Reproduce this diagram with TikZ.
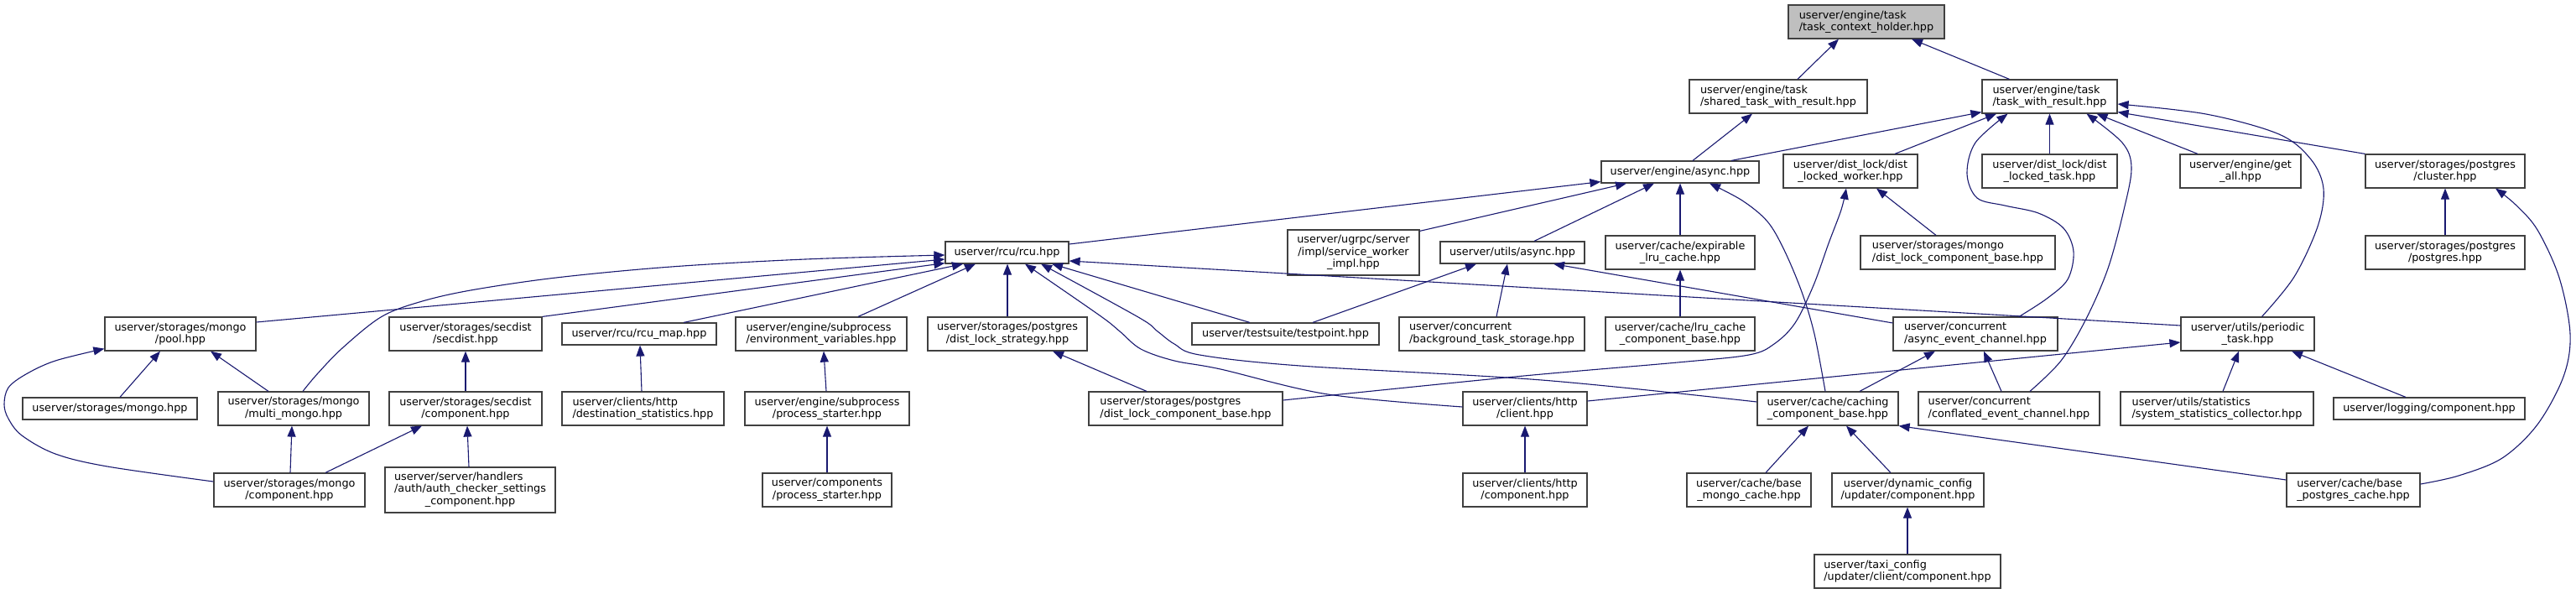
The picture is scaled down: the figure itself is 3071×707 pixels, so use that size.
\documentclass[tikz,border=0pt]{standalone}
\usepackage{fontspec}
\setmainfont{DejaVu Sans}
\usetikzlibrary{arrows.meta}
\definecolor{edgeblue}{HTML}{191970}
\definecolor{boxline}{HTML}{404040}
\definecolor{rootfill}{HTML}{BFBFBF}
\newcommand\bx[7]{\node[box,align=#6,minimum width={#4-#2},minimum height={#5-#3}] (#1) at ({(#2+#4)/2},{(#3+#5)/2}) {#7};}
\begin{document}
\begin{tikzpicture}[x=1pt,y=-1pt,
  box/.style={draw=boxline,line width=1.2pt,fill=white,inner sep=0pt,font=\fontsize{12.8pt}{14.6pt}\selectfont},
  edge/.style={draw=edgeblue,line width=1.1pt,-{Triangle[length=13pt,width=10pt]}}]
\fill[white] (0,0) rectangle (3071,707);
\useasboundingbox (0,0) rectangle (3071,707);
% nodes
\node[box,fill=rootfill,align=left,minimum width=186,minimum height=40] (tch) at (2225,26) {userver/engine/task\\/task\_context\_holder.hpp};
\bx{stwr}{2014}{95}{2226}{135}{left}{userver/engine/task\\/shared\_task\_with\_result.hpp}
\bx{twr}{2363}{95}{2524}{135}{left}{userver/engine/task\\/task\_with\_result.hpp}
\bx{async}{1909}{192}{2097}{218}{center}{userver/engine/async.hpp}
\bx{dlw}{2126}{184}{2286}{224}{center}{userver/dist\_lock/dist\\\_locked\_worker.hpp}
\bx{dlt}{2363}{184}{2524}{224}{center}{userver/dist\_lock/dist\\\_locked\_task.hpp}
\bx{getall}{2599}{184}{2743}{224}{center}{userver/engine/get\\\_all.hpp}
\bx{cluster}{2820}{184}{3010}{224}{center}{userver/storages/postgres\\/cluster.hpp}
\bx{rcu}{1127}{288}{1274}{314}{center}{userver/rcu/rcu.hpp}
\bx{ugrpc}{1535}{274}{1692}{328}{center}{userver/ugrpc/server\\/impl/service\_worker\\\_impl.hpp}
\bx{uasync}{1717}{288}{1889}{314}{center}{userver/utils/async.hpp}
\bx{explru}{1914}{281}{2092}{321}{center}{userver/cache/expirable\\\_lru\_cache.hpp}
\bx{mdlcb}{2218}{281}{2450}{321}{left}{userver/storages/mongo\\/dist\_lock\_component\_base.hpp}
\bx{pgpg}{2820}{281}{3010}{321}{center}{userver/storages/postgres\\/postgres.hpp}
\bx{pool}{125}{378}{305}{418}{center}{userver/storages/mongo\\/pool.hpp}
\bx{secdist}{464}{378}{646}{418}{center}{userver/storages/secdist\\/secdist.hpp}
\bx{rcumap}{670}{385}{854}{411}{center}{userver/rcu/rcu\_map.hpp}
\bx{envvars}{877}{378}{1081}{418}{left}{userver/engine/subprocess\\/environment\_variables.hpp}
\bx{dlstrat}{1106}{378}{1296}{418}{center}{userver/storages/postgres\\/dist\_lock\_strategy.hpp}
\bx{testpoint}{1421}{385}{1644}{411}{center}{userver/testsuite/testpoint.hpp}
\bx{bgts}{1668}{378}{1889}{418}{left}{userver/concurrent\\/background\_task\_storage.hpp}
\bx{lrucb}{1914}{378}{2092}{418}{center}{userver/cache/lru\_cache\\\_component\_base.hpp}
\bx{aec}{2257}{378}{2453}{418}{left}{userver/concurrent\\/async\_event\_channel.hpp}
\bx{periodic}{2600}{378}{2759}{418}{center}{userver/utils/periodic\\\_task.hpp}
\bx{mongohpp}{27}{474}{235}{500}{center}{userver/storages/mongo.hpp}
\bx{multimongo}{260}{467}{440}{507}{center}{userver/storages/mongo\\/multi\_mongo.hpp}
\bx{secdistcomp}{464}{467}{646}{507}{center}{userver/storages/secdist\\/component.hpp}
\bx{deststat}{670}{467}{863}{507}{left}{userver/clients/http\\/destination\_statistics.hpp}
\bx{procstart}{888}{467}{1084}{507}{center}{userver/engine/subprocess\\/process\_starter.hpp}
\bx{pgdlcb}{1298}{467}{1529}{507}{left}{userver/storages/postgres\\/dist\_lock\_component\_base.hpp}
\bx{httpclient}{1744}{467}{1892}{507}{center}{userver/clients/http\\/client.hpp}
\bx{cachingcb}{2095}{467}{2263}{507}{center}{userver/cache/caching\\\_component\_base.hpp}
\bx{cec}{2287}{467}{2503}{507}{left}{userver/concurrent\\/conflated\_event\_channel.hpp}
\bx{sysstat}{2528}{467}{2758}{507}{left}{userver/utils/statistics\\/system\_statistics\_collector.hpp}
\bx{logcomp}{2782}{474}{3010}{500}{center}{userver/logging/component.hpp}
\bx{mongocomp}{255}{564}{435}{604}{center}{userver/storages/mongo\\/component.hpp}
\bx{authcheck}{459}{557}{662}{611}{center}{\begin{tabular}{@{}l@{}}userver/server/handlers\\/auth/auth\_checker\_settings\\\multicolumn{1}{@{}c@{}}{\_component.hpp}\end{tabular}}
\bx{compprocstart}{909}{564}{1063}{604}{center}{userver/components\\/process\_starter.hpp}
\bx{httpcomp}{1744}{564}{1892}{604}{center}{userver/clients/http\\/component.hpp}
\bx{basemongo}{2011}{564}{2159}{604}{center}{userver/cache/base\\\_mongo\_cache.hpp}
\bx{dynupd}{2184}{564}{2365}{604}{center}{userver/dynamic\_config\\/updater/component.hpp}
\bx{basepg}{2726}{564}{2885}{604}{left}{userver/cache/base\\\_postgres\_cache.hpp}
\bx{taxi}{2163}{661}{2385}{701}{left}{userver/taxi\_config\\/updater/client/component.hpp}
% edges
\draw[edge] ([xshift=23pt]stwr.north) -- ([xshift=-33pt]tch.south);
\draw[edge] ([xshift=-48pt]twr.north) -- ([xshift=54pt]tch.south);
\draw[edge] ([xshift=15pt]async.north) -- ([xshift=-31pt]stwr.south);
\draw[edge] ([xshift=61pt]async.north) -- ([yshift=2pt]twr.south west);
\draw[edge] ([xshift=53pt]dlw.north) -- ([xshift=-63.5pt]twr.south);
\draw[edge] plot[smooth,tension=0.55] coordinates {([xshift=52pt]aec.north) (2440,356) (2465,333) (2472,300) (2460,272) (2430,254) (2390,245) (2357,236) (2345,207) (2355,170) ([xshift=-50pt]twr.south)};
\draw[edge] (dlt.north) -- (twr.south);
\draw[edge] plot[smooth,tension=0.55] coordinates {([xshift=25pt]cec.north) (2457,430) (2487,380) (2513,320) (2532,250) (2541,200) (2530,170) ([xshift=44pt]twr.south)};
\draw[edge] ([xshift=-51pt]getall.north) -- ([xshift=56pt]twr.south);
\draw[edge] plot[smooth,tension=0.55] coordinates {([xshift=17pt]periodic.north) (2735,330) (2763,270) (2770,225) (2755,190) (2717,160) (2630,136) ([yshift=-9pt]twr.east)};
\draw[edge] (cluster.north west) -- ([yshift=2pt]twr.south east);
\draw[edge] ([yshift=10pt]rcu.east) -- ([yshift=2pt]async.south west);
\draw[edge] ([yshift=-2pt]ugrpc.north east) -- ([xshift=-64pt]async.south);
\draw[edge] ([xshift=26pt]uasync.north) -- ([xshift=-31pt]async.south);
\draw[edge] (explru.north) -- (async.south);
\draw[edge] plot[smooth,tension=0.55] coordinates {([xshift=-3pt]cachingcb.north) (2163,398) (2148,348) (2127,298) (2107,264) (2077,239) ([xshift=35pt]async.south)};
\draw[edge] plot[smooth,tension=0.55] coordinates {([yshift=10pt]pgdlcb.east) (1806,449) (2000,432) (2085,423) (2115,410) (2140,385) (2162,340) (2180,290) (2195,250) ([xshift=-5pt]dlw.south)};
\draw[edge] ([xshift=-26pt]mdlcb.north) -- ([xshift=31pt]dlw.south);
\draw[edge] (pgpg.north) -- (cluster.south);
\draw[edge] plot[smooth,tension=0.55] coordinates {([yshift=7pt]basepg.east) (2931,567) (2983,546) (3025,506) (3056,449) (3064,398) (3051,331) (3025,274) (2999,244) ([xshift=60pt]cluster.south)};
\draw[edge] plot[smooth,tension=0.55] coordinates {([xshift=11pt]multimongo.north) (378,446) (408,415) (454,378) (500,360) (561,346) (663,331) (800,318) (960,309) ([yshift=-3pt]rcu.west)};
\draw[edge] ([yshift=14pt]pool.east) -- ([yshift=-8pt]rcu.west);
\draw[edge] (secdist.north east) -- ([yshift=1pt]rcu.south west);
\draw[edge] ([xshift=53pt]rcumap.north) -- ([xshift=-52.5pt]rcu.south);
\draw[edge] ([xshift=44pt]envvars.north) -- ([xshift=-37.5pt]rcu.south);
\draw[edge] (dlstrat.north) -- (dlstrat.north |- rcu.south);
\draw[edge] plot[smooth,tension=0.55] coordinates {([yshift=2pt]httpclient.west) (1583,470) (1455,440) (1400,430) (1360,416) (1335,395) (1311,376) ([xshift=21.5pt]rcu.south)};
\draw[edge] plot[smooth,tension=0.55] coordinates {([yshift=8pt]cachingcb.west) (1838,453) (1550,436) (1430,423) (1400,410) (1380,395) (1357,378) ([xshift=40.5pt]rcu.south)};
\draw[edge] ([xshift=-42.5pt]testpoint.north) -- ([xshift=53.5pt]rcu.south);
\draw[edge] ([yshift=10pt]periodic.west) -- ([yshift=-10pt]rcu.east);
\draw[edge] ([xshift=32.5pt]testpoint.north) -- ([xshift=-43pt]uasync.south);
\draw[edge] ([xshift=5.5pt]bgts.north) -- ([xshift=-6pt]uasync.south);
\draw[edge] ([yshift=13pt]aec.west) -- ([xshift=49pt]uasync.south);
\draw[edge] (lrucb.north) -- (explru.south);
\draw[edge] ([xshift=38pt]cachingcb.north) -- ([xshift=-48pt]aec.south);
\draw[edge] ([xshift=-9pt]cec.north) -- ([xshift=10pt]aec.south);
\draw[edge] ([yshift=9pt]httpclient.east) -- ([yshift=-10pt]periodic.west);
\draw[edge] ([xshift=7pt]sysstat.north) -- ([xshift=-10.5pt]periodic.south);
\draw[edge] ([xshift=-28pt]logcomp.north) -- ([xshift=52.5pt]periodic.south);
\draw[edge] ([xshift=20pt]basemongo.north) -- ([xshift=-23pt]cachingcb.south);
\draw[edge] ([xshift=-20.5pt]dynupd.north) -- ([xshift=22pt]cachingcb.south);
\draw[edge] ([yshift=12pt]basepg.west) -- (cachingcb.south east);
\draw[edge] (taxi.north) -- (taxi.north |- dynupd.south);
\draw[edge] (httpcomp.north) -- (httpclient.south);
\draw[edge] ([xshift=-46.5pt]pgdlcb.north) -- ([xshift=54pt]dlstrat.south);
\draw[edge] ([xshift=-1pt]procstart.north) -- ([xshift=3pt]envvars.south);
\draw[edge] (compprocstart.north) -- (procstart.south);
\draw[edge] ([xshift=-1.5pt]deststat.north) -- ([xshift=1pt]rcumap.south);
\draw[edge] (secdistcomp.north) -- (secdist.south);
\draw[edge] ([xshift=43pt]mongocomp.north) -- ([xshift=-52pt]secdistcomp.south);
\draw[edge] ([xshift=-1.5pt]authcheck.north) -- ([xshift=2pt]secdistcomp.south);
\draw[edge] ([xshift=1pt]mongocomp.north) -- ([xshift=-2pt]multimongo.south);
\draw[edge] plot[smooth,tension=0.55] coordinates {([yshift=10pt]mongocomp.west) (128,556) (66,541) (26,519) (10,499) (5,482) (10,462) (31,446) (66,430) ([yshift=3pt]pool.south west)};
\draw[edge] ([xshift=12pt]mongohpp.north) -- ([xshift=-24pt]pool.south);
\draw[edge] ([xshift=-30pt]multimongo.north) -- ([xshift=36pt]pool.south);
\end{tikzpicture}
\end{document}
